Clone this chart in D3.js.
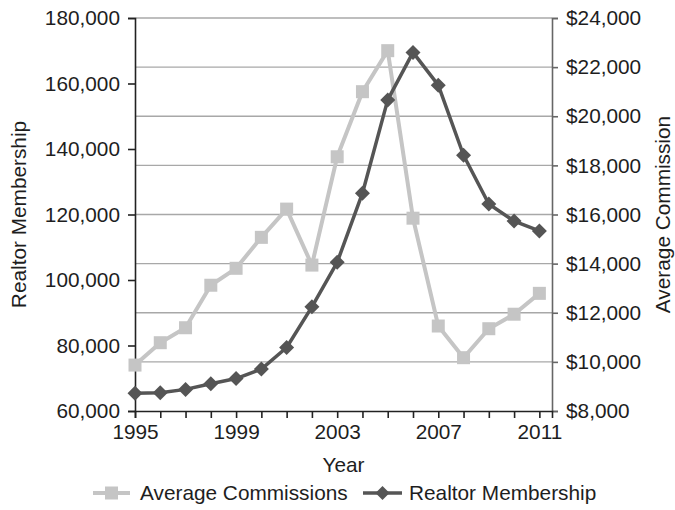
<!DOCTYPE html>
<html><head><meta charset="utf-8">
<script src="https://cdn.jsdelivr.net/npm/d3@7"></script>
<style>
html,body{margin:0;padding:0;background:#fff;}
svg text{font-family:"Liberation Sans",Arial,Helvetica,sans-serif;fill:#1e1e1e;}
</style></head><body>
<svg id="c" width="675" height="510"></svg>
<script>
const years = [1995,1996,1997,1998,1999,2000,2001,2002,2003,2004,2005,2006,2007,2008,2009,2010,2011];
const membership = [65400,65600,66600,68300,69900,72800,79400,91800,105400,126500,155000,169500,159500,138100,123200,118000,115000];
const commissions = [9870,10780,11390,13120,13810,15070,16220,13940,18350,21000,22670,15850,11460,10170,11350,11940,12790];
const leftTicks = [60000,80000,100000,120000,140000,160000,180000];
const rightTicks = [8000,10000,12000,14000,16000,18000,20000,22000,24000];
const xLabelYears = [1995,1999,2003,2007,2011];
const seriesNames = ["Average Commissions","Realtor Membership"];
const titles = {x:"Year", left:"Realtor Membership", right:"Average Commission"};

const FS = "20.8px";
const L = 135, R = 552, T = 18, B = 411;
const svg = d3.select("#c");
const x = d3.scaleLinear().domain([1995, 2011.5]).range([L, R]);
const yL = d3.scaleLinear().domain([60000, 180000]).range([B, T]);
const yR = d3.scaleLinear().domain([8000, 24000]).range([B, T]);
const fmtL = d3.format(",");
const fmtR = v => "$" + d3.format(",")(v);

// gridlines at right-axis ticks
svg.append("g").selectAll("line").data(rightTicks.slice(1)).join("line")
  .attr("x1", L).attr("x2", R).attr("y1", d => yR(d)).attr("y2", d => yR(d))
  .attr("stroke", "#a8a8a8").attr("stroke-width", 1.4);

// left axis
const gl = svg.append("g").attr("transform", `translate(${L},0)`)
  .call(d3.axisLeft(yL).tickValues(leftTicks).tickFormat(fmtL).tickSize(7).tickPadding(8));
gl.select(".domain").attr("stroke", "#222").attr("stroke-width", 1.6);
gl.selectAll(".tick line").attr("stroke", "#222").attr("stroke-width", 1.6);
gl.selectAll("text").style("font-size", FS).attr("fill", "#1e1e1e");

// right axis
const gr = svg.append("g").attr("transform", `translate(${R},0)`)
  .call(d3.axisRight(yR).tickValues(rightTicks).tickFormat(fmtR).tickSize(6).tickPadding(8));
gr.select(".domain").attr("stroke", "#666").attr("stroke-width", 1.6);
gr.selectAll(".tick line").attr("stroke", "#666").attr("stroke-width", 1.6);
gr.selectAll("text").style("font-size", FS).attr("fill", "#1e1e1e");

// bottom axis
const gb = svg.append("g").attr("transform", `translate(0,${B})`)
  .call(d3.axisBottom(x).tickValues(years).tickSize(7).tickPadding(6)
    .tickFormat(d => xLabelYears.includes(d) ? String(d) : ""));
gb.select(".domain").attr("stroke", "#222").attr("stroke-width", 1.6);
gb.selectAll(".tick line").attr("stroke", "#222").attr("stroke-width", 1.6);
gb.selectAll("text").style("font-size", FS).attr("fill", "#1e1e1e");

// titles
svg.append("text").attr("x", (L + R) / 2).attr("y", 472).attr("text-anchor", "middle")
  .style("font-size", FS).text(titles.x);
svg.append("text").attr("transform", `translate(26,${(T + B) / 2}) rotate(-90)`)
  .attr("text-anchor", "middle").style("font-size", FS).text(titles.left);
svg.append("text").attr("transform", `translate(670,${(T + B) / 2}) rotate(-90)`)
  .attr("text-anchor", "middle").style("font-size", FS).text(titles.right);

const LIGHT = "#c5c5c5", DARK = "#555555";
const diamond = (cx, cy, r) => `M${cx},${cy - r}L${cx + r},${cy}L${cx},${cy + r}L${cx - r},${cy}Z`;

// commissions line
const lineC = d3.line().x((d, i) => x(years[i])).y(d => yR(d));
svg.append("path").datum(commissions).attr("d", lineC)
  .attr("fill", "none").attr("stroke", LIGHT).attr("stroke-width", 4).attr("stroke-linejoin", "round");
svg.append("g").selectAll("rect").data(commissions).join("rect")
  .attr("x", (d, i) => x(years[i]) - 6.5).attr("y", d => yR(d) - 6.5)
  .attr("width", 13).attr("height", 13).attr("fill", LIGHT);

// membership line
const lineM = d3.line().x((d, i) => x(years[i])).y(d => yL(d));
svg.append("path").datum(membership).attr("d", lineM)
  .attr("fill", "none").attr("stroke", DARK).attr("stroke-width", 3.5).attr("stroke-linejoin", "round");
svg.append("g").selectAll("path").data(membership).join("path")
  .attr("d", (d, i) => diamond(x(years[i]), yL(d), 7.5)).attr("fill", DARK);

// legend
const ly = 493;
svg.append("line").attr("x1", 93).attr("x2", 130).attr("y1", ly).attr("y2", ly)
  .attr("stroke", LIGHT).attr("stroke-width", 4);
svg.append("rect").attr("x", 111.5 - 6.5).attr("y", ly - 6.5).attr("width", 13).attr("height", 13).attr("fill", LIGHT);
svg.append("text").attr("x", 140).attr("y", ly).attr("dy", "0.35em").style("font-size", FS).text(seriesNames[0]);
svg.append("line").attr("x1", 363).attr("x2", 402).attr("y1", ly).attr("y2", ly)
  .attr("stroke", DARK).attr("stroke-width", 3.5);
svg.append("path").attr("d", diamond(382.5, ly, 7)).attr("fill", DARK);
svg.append("text").attr("x", 409).attr("y", ly).attr("dy", "0.35em").style("font-size", FS).text(seriesNames[1]);
</script>
</body></html>
